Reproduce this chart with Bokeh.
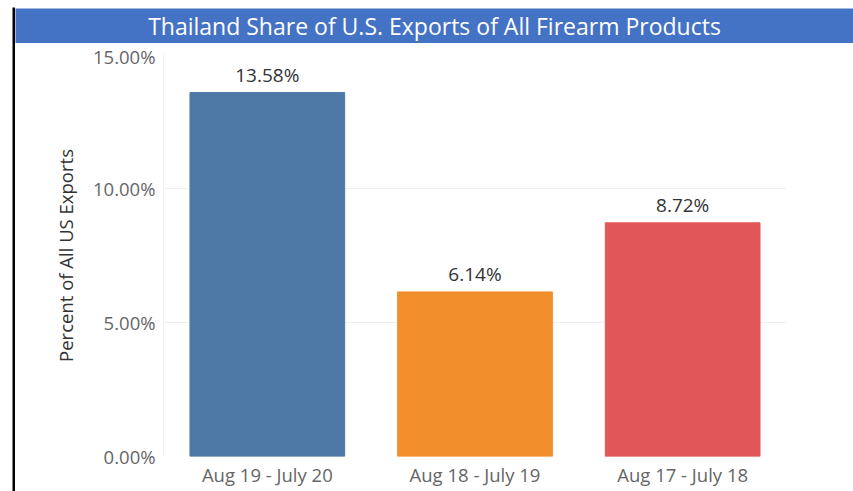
from bokeh.plotting import figure
from bokeh.layouts import row, column
from bokeh.models import ColumnDataSource, Range1d, FactorRange, PrintfTickFormatter, FixedTicker
from bokeh.core.properties import value
from bokeh.embed import file_html
from bokeh.resources import INLINE

title_text = "Thailand Share of U.S. Exports of All Firearm Products"
periods = ["Aug 19 - July 20", "Aug 18 - July 19", "Aug 17 - July 18"]
shares = [13.58, 6.14, 8.72]
bar_colors = ["#4E79A7", "#F28E2B", "#E15759"]
y_ticks = [0, 5, 10, 15]
y_label = "Percent of All US Exports"

FONT = "Open Sans"

# left black strip
strip = figure(width=15, height=491, output_backend="svg", toolbar_location=None,
               x_range=(0, 1), y_range=(0, 1), min_border_left=12, min_border_right=0,
               min_border_top=7, min_border_bottom=0)
strip.axis.visible = False
strip.grid.visible = False
strip.outline_line_color = None
strip.background_fill_color = "black"
strip.border_fill_color = "white"
strip.frame_align = False

# header
header = figure(width=838, height=43, output_backend="svg", toolbar_location=None,
                x_range=(0, 1), y_range=(0, 1), min_border=0, min_border_top=8)
header.axis.visible = False
header.grid.visible = False
header.outline_line_color = None
header.background_fill_color = "#4472C4"
header.border_fill_color = "white"
header.frame_align = False
header.text(x=[0.5], y=[0.5], text=[title_text], text_align="center", text_baseline="middle",
            text_color="white", text_font=value(FONT), text_font_size="23px")

# main chart
src = ColumnDataSource(dict(period=periods, share=shares, color=bar_colors,
                            label=["%.2f%%" % v for v in shares]))

p = figure(width=838, height=448, output_backend="svg", toolbar_location=None,
           x_range=FactorRange(*periods, range_padding=0), y_range=Range1d(0, 15),
           min_border_left=148, min_border_right=67, min_border_top=11, min_border_bottom=35)
p.frame_align = False
p.border_fill_color = "white"
p.vbar(x="period", top="share", width=0.745, color="color", source=src)
p.text(x="period", y="share", text="label", source=src, text_align="center",
       text_baseline="bottom", y_offset=-5, text_color="#333333",
       text_font=value(FONT), text_font_size="19px")

p.outline_line_color = None
p.xgrid.visible = False
p.ygrid.grid_line_color = "#f0f0f0"
p.yaxis.ticker = FixedTicker(ticks=y_ticks)
p.yaxis.formatter = PrintfTickFormatter(format="%.2f%%")
p.yaxis.axis_label = y_label
p.yaxis.axis_label_text_font = FONT
p.yaxis.axis_label_text_font_style = "normal"
p.yaxis.axis_label_text_font_size = "18.5px"
p.yaxis.axis_label_text_color = "#333333"
p.yaxis.axis_label_standoff = 12
p.yaxis.axis_line_color = "#f0f0f0"
p.yaxis.major_tick_line_color = None
p.yaxis.minor_tick_line_color = None
p.yaxis.major_tick_out = 0
p.yaxis.minor_tick_out = 0
p.yaxis.major_label_standoff = 8
p.yaxis.major_label_text_font = FONT
p.yaxis.major_label_text_font_size = "18.5px"
p.yaxis.major_label_text_color = "#666666"
p.xaxis.major_label_text_font = FONT
p.xaxis.major_label_text_font_size = "18.5px"
p.xaxis.major_label_text_color = "#666666"
p.xaxis.axis_line_color = None
p.xaxis.major_tick_line_color = None
p.xaxis.major_tick_out = 0
p.xaxis.major_label_standoff = 5

layout = row(strip, column(header, p, spacing=0), spacing=0)

open("out.html", "w").write(file_html(layout, INLINE))
